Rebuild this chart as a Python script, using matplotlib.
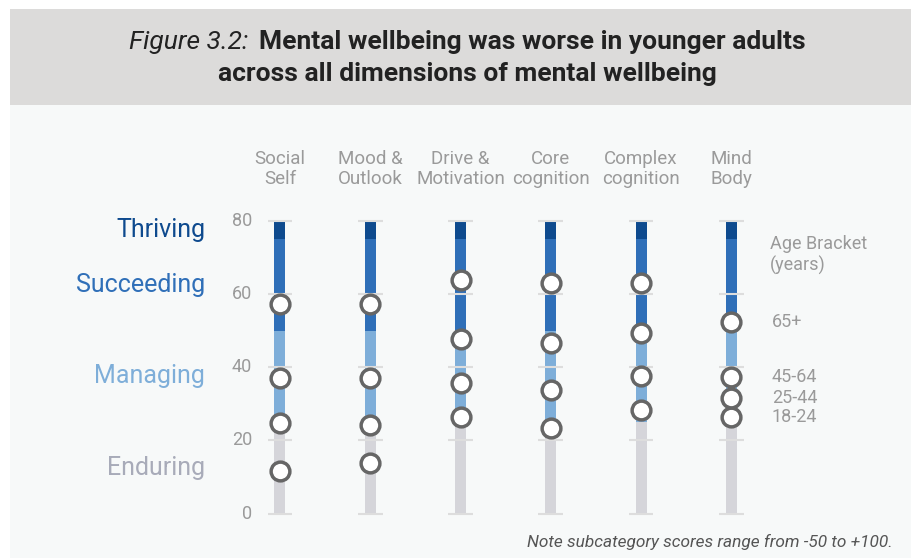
import matplotlib
matplotlib.use("Agg")
import matplotlib.pyplot as plt
from matplotlib.patches import Rectangle

# data
categories = ["Social\nSelf", "Mood &\nOutlook", "Drive &\nMotivation",
              "Core\ncognition", "Complex\ncognition", "Mind\nBody"]
age_groups = ["18-24", "25-44", "45-64", "65+"]
scores_18_24 = [11.7, 13.9, 26.3, 23.5, 28.3, 26.3]
scores_25_44 = [24.6, 24.2, 35.6, 33.7, 37.7, 31.5]
scores_45_64 = [37.1, 37.1, 47.8, 46.5, 49.3, 37.2]
scores_65_plus = [57.2, 57.2, 63.8, 62.9, 62.9, 52.4]
band_names = ["Enduring", "Managing", "Succeeding", "Thriving"]
band_edges = [0, 25, 50, 75, 80]
y_ticks = [0, 20, 40, 60, 80]

BAR_COLORS = ["#d5d5da", "#7eaed9", "#2f6fb8", "#0e4a8e"]
LABEL_COLORS = ["#a8abb9", "#7eaed9", "#2f6fb8", "#0e4a8e"]
GREY_TEXT = "#9a9a9a"

plt.rcParams["font.family"] = ["Roboto", "DejaVu Sans"]

fig = plt.figure(figsize=(9.11, 5.58), dpi=100, facecolor="white")

# panel background and title band
fig.patches.append(Rectangle((10 / 911, 0), 1, (558 - 9) / 558, transform=fig.transFigure,
                             facecolor="#f7f9f9", edgecolor="none", zorder=-10))
fig.patches.append(Rectangle((10 / 911, (558 - 105) / 558), 1, 96 / 558,
                             transform=fig.transFigure, facecolor="#dcdbda",
                             edgecolor="none", zorder=-10))

ax = fig.add_axes([0, 0.0797, 1, 0.5248])
ax.patch.set_alpha(0)
ax.set_xlim(-3.102, 6.991)
ax.set_ylim(0, 80)
ax.axis("off")

x = list(range(len(categories)))
bar_w = 0.122

for i, name in enumerate(band_names):
    lo, hi = band_edges[i], band_edges[i + 1]
    ax.bar(x, [hi - lo] * len(x), bottom=lo, width=bar_w, color=BAR_COLORS[i],
           linewidth=0, zorder=2)
    ax.text(-0.83, (lo + hi) / 2, name, ha="right", va="center", fontsize=18,
            color=LABEL_COLORS[i])

for xi in x:
    ax.hlines(y_ticks, xi - 0.138, xi + 0.138, color="#dddddd", lw=1.5, zorder=3,
              clip_on=False)

for t in y_ticks:
    ax.text(-0.31, t, str(t), ha="right", va="center", fontsize=13, color=GREY_TEXT)

for xi, cat in zip(x, categories):
    ax.text(xi, 94.0, cat, ha="center", va="center", fontsize=13.5, color=GREY_TEXT,
            linespacing=1.15)

all_scores = [scores_18_24, scores_25_44, scores_45_64, scores_65_plus]
for s in all_scores:
    ax.plot(x, s, "o", ms=13.5, mfc="white", mec="#666666", mew=2.5, ls="none",
            zorder=4, clip_on=False)

# age labels next to the last column
for grp, s in zip(age_groups, all_scores):
    ax.text(5.45, s[-1], grp, ha="left", va="center", fontsize=13, color=GREY_TEXT)
ax.text(5.43, 70.6, "Age Bracket\n(years)", ha="left", va="center", fontsize=13,
        color=GREY_TEXT, linespacing=1.2)

# footnote
fig.text(893 / 911, 1 - 542 / 558, "Note subcategory scores range from -50 to +100.",
         ha="right", va="center", fontsize=12.4, style="italic", color="#555555")

# title: italic figure number followed by bold heading
cx = 467.5 / 911
y1 = 1 - 42 / 558
y2 = 1 - 74 / 558
t_it = fig.text(0, y1, "Figure 3.2:", fontsize=19, style="italic", color="#222222",
                va="center")
t_bd = fig.text(0, y1, "Mental wellbeing was worse in younger adults", fontsize=19,
                fontweight="bold", color="#222222", va="center")
r = fig.canvas.get_renderer()
w_it = t_it.get_window_extent(r).width / fig.bbox.width
w_bd = t_bd.get_window_extent(r).width / fig.bbox.width
gap = 10 / 911
start = cx - (w_it + gap + w_bd) / 2
t_it.set_x(start)
t_bd.set_x(start + w_it + gap)
fig.text(cx, y2, "across all dimensions of mental wellbeing", fontsize=19,
         fontweight="bold", color="#222222", ha="center", va="center")

fig.savefig("out.png", dpi=100, facecolor=fig.get_facecolor())
